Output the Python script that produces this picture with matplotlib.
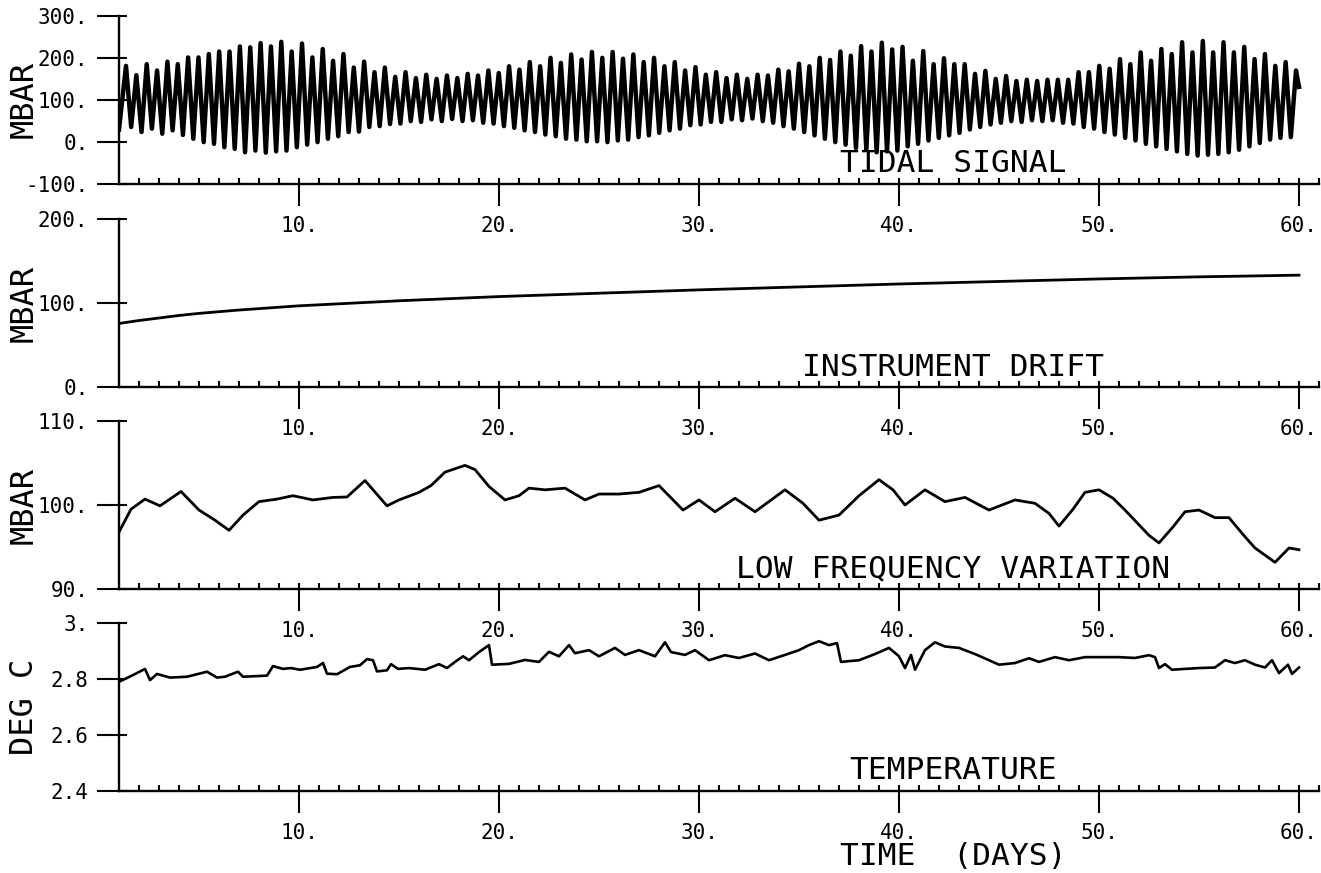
import numpy as np
import matplotlib
matplotlib.use("Agg")
import matplotlib.pyplot as plt
from matplotlib.ticker import FixedLocator

plt.rcParams['font.family'] = ['DejaVu Sans Mono', 'DejaVu Sans']

# ---- data ----
# tidal signal: successive high and low water values (mbar)
tide_first_peak = 1.35      # day of first high water
tide_period = 0.5177        # days between high waters
tide_start = (1.0, 30)
tide_end = (60.0, 131)
tide_high = [181, 159, 185, 170, 191, 185, 201, 201, 209, 215, 215, 227, 225, 235, 227, 238, 215, 234,
             201, 221, 193, 209, 177, 191, 166, 177, 155,
             166, 152, 160, 150, 158, 152, 162, 158, 170, 164, 180, 172, 190, 180, 200, 188, 208, 196,
             214, 200, 214, 198, 208, 190, 200, 180, 190, 170, 178, 160, 166, 152, 160, 150, 160, 158,
             172, 168, 186, 180, 200, 195, 215, 205, 228, 215, 236, 220,
             226, 193, 216, 185, 199, 185, 185, 162, 169, 150, 157, 145, 148, 145, 148, 148, 148, 166,
             166, 181, 174, 197, 185, 213, 193, 221, 209, 237, 213, 240, 213, 237, 213, 226, 197, 209,
             181, 190, 170]
tide_low = [36, 24, 32, 20, 28, 17, 8, 0, -4, -12, -16, -24, -20, -25, -22, -20, -12, -6, 0, 8,
            14, 24, 25, 36, 38, 43,
            44, 50, 48, 54, 50, 55, 50, 52, 46, 44, 38, 34, 28, 24, 18, 14, 8, 6, 2, 2, 0,
            4, 6, 12, 16, 22, 28, 32, 40, 42, 48, 48, 54, 52, 56, 50, 46, 38, 32, 24, 16,
            8, 0, -6, -14, -18, -24, -22, -20, -10, -4, 4, 10, 16, 22, 30, 36, 42, 46, 50, 48,
            52, 50, 52, 46, 44, 36, 32, 24, 18, 10, 4, -4, -10, -16, -22, -28, -32, -30, -28, -24,
            -18, -10, -2, 6, 10, 12]

# instrument drift (mbar)
drift_days = [1, 2, 3, 4, 5, 7, 10, 15, 20, 25, 30, 35, 40, 45, 50, 55, 60]
drift_vals = [76, 79.5, 82.5, 85.5, 88, 92, 97, 103, 108, 112, 116, 119.5, 123, 126, 129, 131.5, 133.5]

# low frequency variation (mbar)
lf_days = [1.0, 1.6, 2.3, 3.05, 4.1, 5.0, 5.8, 6.5, 7.2, 8.0, 8.9, 9.7, 10.7, 11.7, 12.4, 13.3,
           14.4, 15.0, 16.0, 16.6, 17.3, 18.3, 18.8, 19.5, 20.3, 21.0, 21.5, 22.3, 23.3, 24.3,
           25.0, 26.0, 27.0, 28.0, 29.2, 30.0, 30.8, 31.8, 32.8, 34.3, 35.2, 36.0, 37.0, 38.0,
           39.0, 39.7, 40.3, 41.3, 42.3, 43.3, 44.5, 45.8, 46.8, 47.5, 48.0, 48.7, 49.3, 50.0,
           50.7, 51.3, 52.5, 53.0, 53.7, 54.3, 55.0, 55.8, 56.5, 57.2, 57.8, 58.8, 59.5, 60.0]
lf_vals = [96.8, 99.5, 100.7, 99.9, 101.6, 99.4, 98.2, 97.0, 98.8, 100.4, 100.7, 101.1, 100.6,
           100.9, 100.95, 102.9, 99.9, 100.6, 101.5, 102.3, 103.9, 104.7, 104.2, 102.2, 100.6,
           101.1, 102.0, 101.8, 102.0, 100.6, 101.3, 101.3, 101.5, 102.3, 99.4, 100.6, 99.2,
           100.8, 99.2, 101.8, 100.2, 98.2, 98.8, 101.1, 103.0, 101.8, 100.0, 101.8, 100.4,
           100.9, 99.4, 100.6, 100.2, 99.0, 97.5, 99.5, 101.5, 101.8, 100.8, 99.4, 96.4, 95.5,
           97.4, 99.2, 99.4, 98.5, 98.5, 96.5, 94.9, 93.2, 94.9, 94.7]

# temperature (deg C)
temp_days = [1.0, 1.7, 2.3, 2.55, 2.9, 3.55, 4.4, 5.4, 5.9, 6.3, 6.95, 7.2, 8.4, 8.7, 9.2, 9.6,
             10.05, 10.9, 11.2, 11.4, 11.9, 12.55, 13.05, 13.4, 13.7, 13.9, 14.4, 14.6, 14.95,
             15.5, 16.3, 17.0, 17.4, 17.8, 18.2, 18.5, 19.0, 19.5, 19.65, 20.5, 21.3, 22.0, 22.5,
             23.0, 23.5, 23.8, 24.5, 25.0, 25.8, 26.3, 27.0, 27.8, 28.3, 28.6, 29.3, 29.8, 30.5,
             31.3, 32.0, 32.8, 33.5, 34.3, 35.0, 35.5, 36.0, 36.5, 36.9, 37.1, 38.0, 38.8, 39.5,
             40.0, 40.3, 40.6, 40.8, 41.3, 41.8, 42.3, 43.0, 43.8, 44.5, 45.0, 45.8, 46.5, 47.0,
             47.8, 48.5, 49.3, 50.0, 51.0, 51.8, 52.5, 52.8, 53.0, 53.3, 53.65, 54.3, 55.0, 55.8,
             56.3, 56.8, 57.3, 57.8, 58.3, 58.65, 59.0, 59.45, 59.65, 60.0]
temp_vals = [2.789, 2.813, 2.835, 2.795, 2.817, 2.804, 2.807, 2.825, 2.804, 2.807, 2.825, 2.807,
             2.811, 2.845, 2.835, 2.838, 2.832, 2.842, 2.856, 2.818, 2.816, 2.842, 2.848, 2.870,
             2.866, 2.826, 2.830, 2.852, 2.835, 2.838, 2.832, 2.852, 2.838, 2.860, 2.880, 2.866,
             2.895, 2.920, 2.850, 2.853, 2.867, 2.860, 2.896, 2.880, 2.920, 2.891, 2.902, 2.880,
             2.910, 2.885, 2.902, 2.880, 2.930, 2.895, 2.885, 2.902, 2.866, 2.884, 2.874, 2.890,
             2.866, 2.885, 2.902, 2.920, 2.934, 2.920, 2.927, 2.860, 2.866, 2.888, 2.910, 2.880,
             2.838, 2.885, 2.832, 2.902, 2.930, 2.915, 2.910, 2.888, 2.866, 2.850, 2.856, 2.873,
             2.860, 2.877, 2.866, 2.877, 2.877, 2.877, 2.874, 2.884, 2.877, 2.838, 2.852, 2.832,
             2.835, 2.838, 2.840, 2.866, 2.856, 2.866, 2.850, 2.840, 2.866, 2.820, 2.850, 2.817,
             2.840]

x_major = [10, 20, 30, 40, 50, 60]
x_labels = ["10.", "20.", "30.", "40.", "50.", "60."]

# ---- interleave high/low water into one trace ----
t_high = tide_first_peak + tide_period * np.arange(len(tide_high))
t_low = t_high[:len(tide_low)] + tide_period / 2
tide_t = np.concatenate([[tide_start[0]], np.column_stack([t_high[:-1], t_low]).ravel(),
                         [t_high[-1], tide_end[0]]])
tide_v = np.concatenate([[tide_start[1]], np.column_stack([tide_high[:-1], tide_low]).ravel(),
                         [tide_high[-1], tide_end[1]]])

W, H = 1321, 873
fig = plt.figure(figsize=(W / 100, H / 100), dpi=100)


def panel(top, bottom):
    return fig.add_axes([119 / W, 1 - bottom / H, 1200 / W, (bottom - top) / H])


def style(ax, yticks, ylabels, ylab, title):
    ax.set_xlim(1, 61)
    ax.set_ylim(min(yticks), max(yticks))
    ax.patch.set_alpha(0)
    for s in ["top", "right"]:
        ax.spines[s].set_visible(False)
    for s in ["left", "bottom"]:
        ax.spines[s].set_linewidth(1.7)
    ax.xaxis.set_major_locator(FixedLocator(x_major))
    ax.xaxis.set_minor_locator(FixedLocator(range(2, 62)))
    ax.set_xticklabels(x_labels)
    ax.yaxis.set_major_locator(FixedLocator(yticks))
    ax.yaxis.set_minor_locator(FixedLocator(yticks))
    ax.set_yticklabels(ylabels)
    ax.xaxis.remove_overlapping_locs = False
    ax.yaxis.remove_overlapping_locs = False
    ax.tick_params(axis="x", which="major", direction="out", length=16, width=1.5,
                   pad=7, labelsize=15)
    ax.tick_params(axis="x", which="minor", direction="in", length=4.5, width=1.5)
    ax.tick_params(axis="y", which="major", direction="out", length=16, width=1.5,
                   pad=6, labelsize=15)
    ax.tick_params(axis="y", which="minor", direction="in", length=5.5, width=1.5)
    ax.set_ylabel(ylab, fontsize=23)
    ax.yaxis.set_label_coords(-0.066, 0.5)
    ax.text(0.695, 0.07, title, transform=ax.transAxes, ha="center", va="baseline",
            fontsize=22.5)


ax1 = panel(15.7, 184.3)
ax1.plot(tide_t, tide_v, color="black", lw=3.2, solid_joinstyle="round")
style(ax1, [300, 200, 100, 0, -100], ["300.", "200.", "100.", "0.", "-100."], "MBAR", "TIDAL SIGNAL")

ax2 = panel(219.3, 387.3)
ax2.plot(drift_days, drift_vals, color="black", lw=2.0)
style(ax2, [200, 100, 0], ["200.", "100.", "0."], "MBAR", "INSTRUMENT DRIFT")

ax3 = panel(420.7, 589.3)
ax3.plot(lf_days, lf_vals, color="black", lw=2.0)
style(ax3, [110, 100, 90], ["110.", "100.", "90."], "MBAR", "LOW FREQUENCY VARIATION")

ax4 = panel(622.7, 790.7)
ax4.plot(temp_days, temp_vals, color="black", lw=1.9)
style(ax4, [3.0, 2.8, 2.6, 2.4], ["3.", "2.8", "2.6", "2.4"], "DEG C", "TEMPERATURE")

fig.text(953 / W, 1 - 865 / H, "TIME  (DAYS)", ha="center", va="baseline", fontsize=22.5)

fig.savefig("out.png", dpi=100)
